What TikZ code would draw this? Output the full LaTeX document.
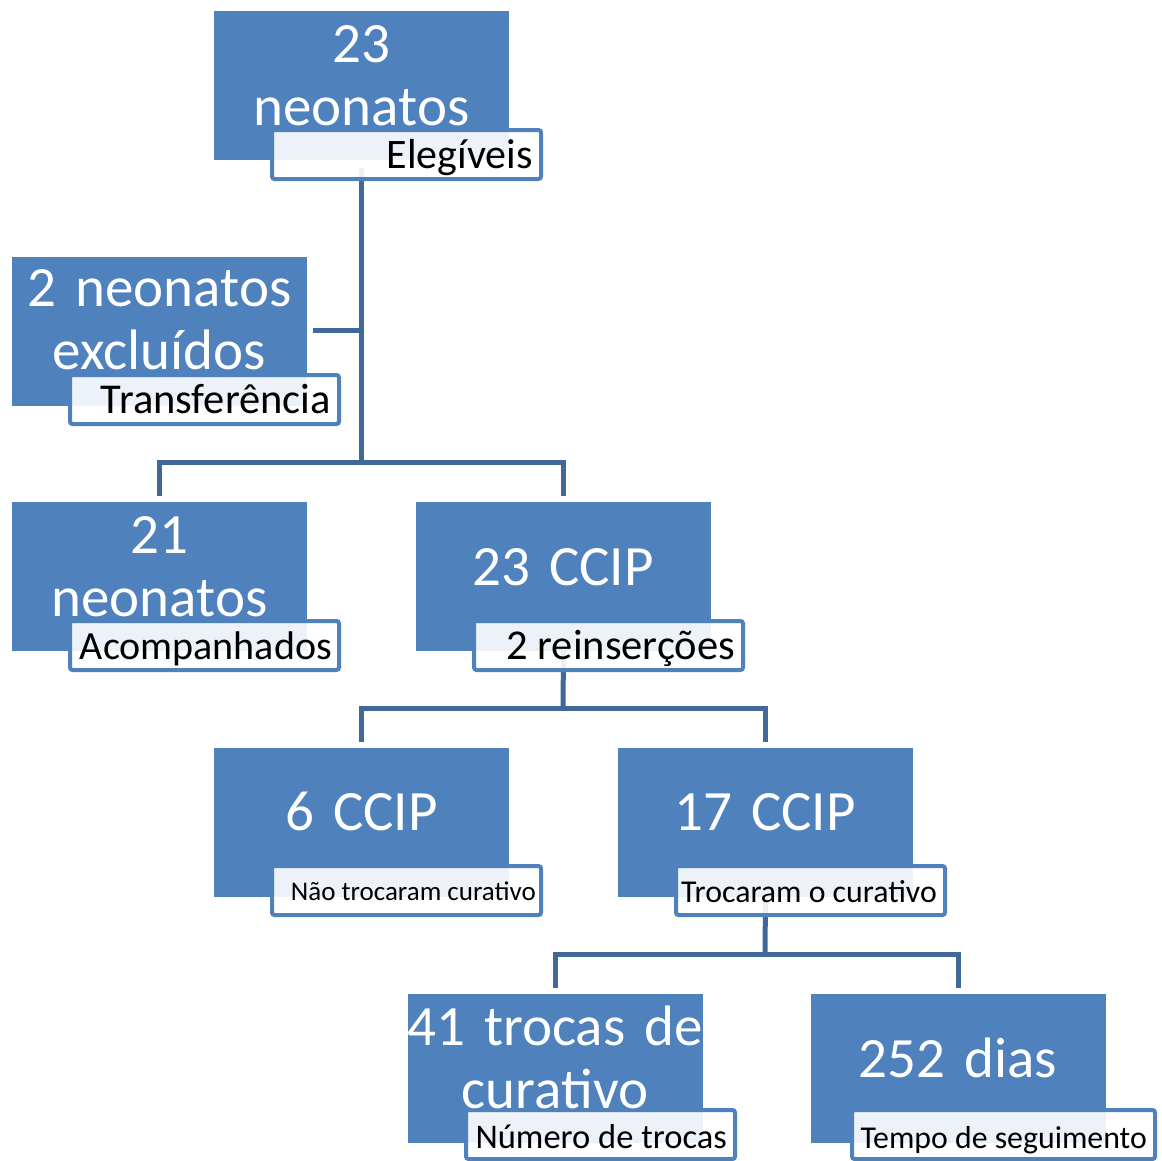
\documentclass[tikz,border=0pt]{standalone}
\usepackage{fontspec}
\setmainfont{Carlito}
\definecolor{boxblue}{RGB}{79,129,189}
\definecolor{linkblue}{RGB}{64,105,154}
\begin{document}
\begin{tikzpicture}[x=1pt,y=-1pt,
 bluebox/.style={fill=boxblue, draw=none, minimum width=295pt, minimum height=149pt, inner sep=0pt, outer sep=0pt, anchor=north west},
 maintxt/.style={text=white, font=\fontsize{57}{63}\selectfont, align=center, text width=330pt, inner sep=0pt, anchor=base},
 tagbox/.style={draw=boxblue, line width=4pt, fill=white, fill opacity=0.9, rounded corners=2.5pt, minimum width=269pt, minimum height=49pt, inner sep=0pt, outer sep=0pt, anchor=north west},
 tagtxt/.style={text=black, anchor=base east, inner sep=0pt},
 link/.style={draw=linkblue, line width=5pt}]
\useasboundingbox[fill=white] (0,0) rectangle (1162,1160);

% blue boxes
\node[bluebox] (b1) at (214,11) {};
\node[bluebox] (b2) at (12,257) {};
\node[bluebox] (b3) at (12,502) {};
\node[bluebox] (b4) at (416,502) {};
\node[bluebox] (b5) at (214,748) {};
\node[bluebox] (b6) at (618,748) {};
\node[bluebox] (b7) at (408,994) {};
\node[bluebox] (b8) at (811,994) {};

% connectors
\coordinate (j1) at (361.5,462);
\coordinate (e2) at (313,330);
\coordinate (j2) at (563,708);
\coordinate (j3) at (765,954);
\draw[link, shorten <=8pt] (b1.south) -- (j1);
\draw[link] (e2) -- (e2 -| j1);
\draw[link, shorten >=6pt] (j1) -| (b3.north);
\draw[link, shorten >=6pt] (j1) -| (b4.north);
\draw[link] (b4.south) -- (j2);
\draw[link, shorten >=6pt] (j2) -| (b5.north);
\draw[link, shorten >=6pt] (j2) -| (b6.north);
\draw[link] (b6.south) -- (j3);
\draw[link, shorten >=6pt] (j3) -| (b7.north);
\draw[link, shorten >=6pt] (j3) -| (b8.north);

% tags
\node[tagbox] (t1) at (272,130) {};
\node[tagbox] (t2) at (70,375) {};
\node[tagbox] (t3) at (70,621) {};
\node[tagbox] (t4) at (474,621) {};
\node[tagbox] (t5) at (272,866) {};
\node[tagbox] (t6) at (676,866) {};
\node[tagbox] (t7) at (466,1110) {};
\node[tagbox, minimum width=303pt] (t8) at (852,1110) {};

% main texts
\node[maintxt] (b1t) at (361.5,62) {23\\neonatos};
\node[maintxt] (b2t) at (159.5,306) {2 neonatos\\excluídos};
\node[maintxt] (b3t) at (159.5,553) {21\\neonatos};
\node[maintxt] (b4t) at (563,585) {23 CCIP};
\node[maintxt] (b5t) at (361.5,830) {6 CCIP};
\node[maintxt] (b6t) at (765,830) {17 CCIP};
\node[maintxt] (b7t) at (555,1045) {41 trocas de\\curativo};
\node[maintxt] (b8t) at (958,1077) {252 dias};

% tag texts
\node[tagtxt, font=\fontsize{42}{48}\selectfont] (t1t) at (533,168) {Elegíveis};
\node[tagtxt, font=\fontsize{42.5}{48}\selectfont] (t2t) at (331,413) {Transferência};
\node[tagtxt, font=\fontsize{40}{48}\selectfont] (t3t) at (332,659) {Acompanhados};
\node[tagtxt, font=\fontsize{42.5}{48}\selectfont] (t4t) at (735,659) {2 reinserções};
\node[tagtxt, font=\fontsize{27}{32}\selectfont] (t5t) at (536,900) {Não trocaram curativo};
\node[tagtxt, font=\fontsize{31.8}{36}\selectfont] (t6t) at (937,902) {Trocaram o curativo};
\node[tagtxt, font=\fontsize{34.5}{40}\selectfont] (t7t) at (727,1148) {Número de trocas};
\node[tagtxt, font=\fontsize{31.8}{36}\selectfont] (t8t) at (1147,1148) {Tempo de seguimento};
\end{tikzpicture}
\end{document}
